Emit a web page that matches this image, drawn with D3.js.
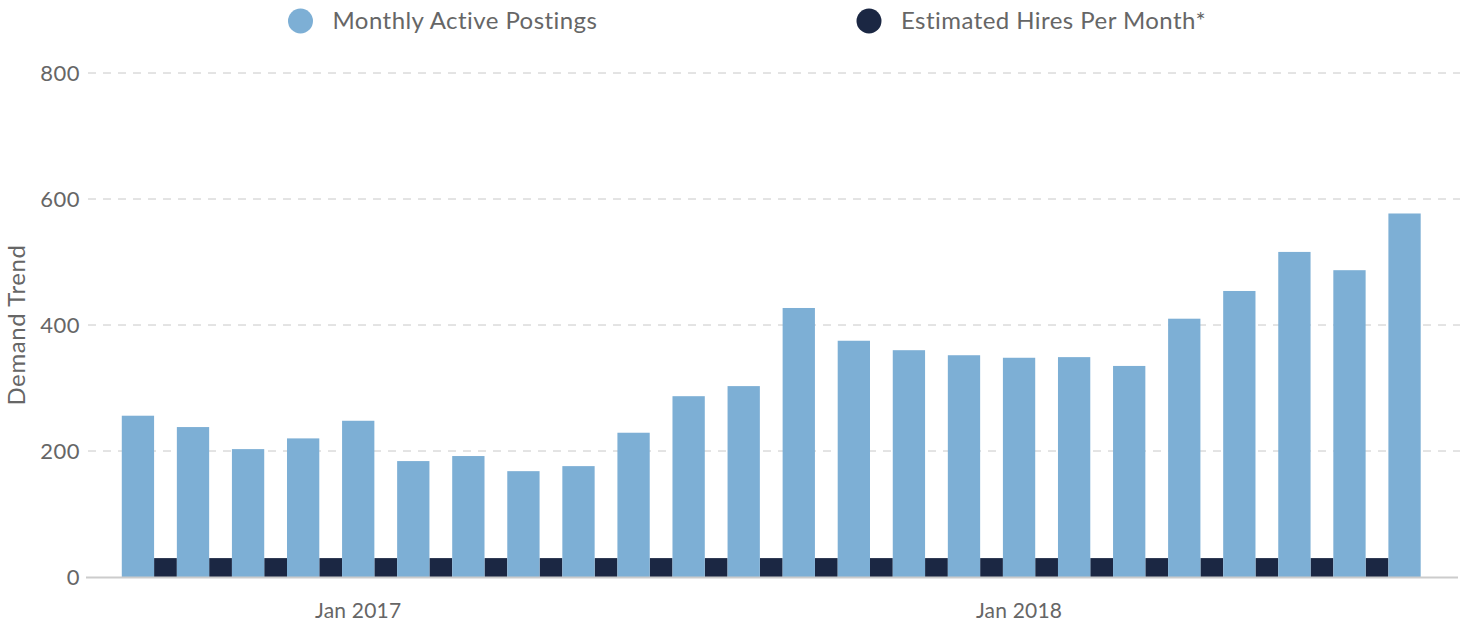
<!DOCTYPE html>
<html>
<head>
<meta charset="utf-8">
<script src="https://cdn.jsdelivr.net/npm/d3@7"></script>
<style>
  body { margin: 0; background: #fff; }
  svg { font-family: Lato, "Open Sans", sans-serif; }
  .grid line { stroke: #c8c8c8; stroke-dasharray: 8,7; }
  .tick text { fill: #666; }
</style>
</head>
<body>
<svg id="chart"></svg>
<script>
// months Sep 2016 .. Aug 2018
const months = ["Sep 2016", "Oct 2016", "Nov 2016", "Dec 2016", "Jan 2017", "Feb 2017", "Mar 2017", "Apr 2017",
  "May 2017", "Jun 2017", "Jul 2017", "Aug 2017", "Sep 2017", "Oct 2017", "Nov 2017", "Dec 2017",
  "Jan 2018", "Feb 2018", "Mar 2018", "Apr 2018", "May 2018", "Jun 2018", "Jul 2018", "Aug 2018"];
const postings = [256, 238, 203, 220, 248, 184, 192, 168, 176, 229, 287, 303,
  427, 375, 360, 352, 348, 349, 335, 410, 454, 516, 487, 577];
const hires = [30, 30, 30, 30, 30, 30, 30, 30, 30, 30, 30, 30,
  30, 30, 30, 30, 30, 30, 30, 30, 30, 30, 30, null];
const yTicks = [0, 200, 400, 600, 800];
const xLabels = ["Jan 2017", "Jan 2018"];
const seriesNames = ["Monthly Active Postings", "Estimated Hires Per Month*"];
const colors = ["#7dafd5", "#1b2743"];

const width = 1466, height = 624;
const svg = d3.select("#chart").attr("width", width).attr("height", height);

const plotLeft = 86, plotRight = 1460;
const y = d3.scaleLinear().domain([0, 800]).range([577, 73]);
const x = d3.scaleBand().domain(months).range([110.4, 110.4 + 24 * 55.07]);
const barW = 32.3;

// gridlines
svg.append("g").attr("class", "grid")
  .selectAll("line")
  .data(yTicks.filter(d => d > 0))
  .enter().append("line")
  .attr("x1", 88).attr("x2", plotRight)
  .attr("y1", d => y(d)).attr("y2", d => y(d));

// y labels
svg.append("g").attr("class", "tick")
  .selectAll("text")
  .data(yTicks)
  .enter().append("text")
  .attr("x", 80).attr("y", d => y(d) + 8)
  .attr("text-anchor", "end")
  .attr("font-size", 22)
  .attr("letter-spacing", 0.5)
  .text(d => d);

svg.append("text")
  .attr("transform", `translate(25,${(y(0) + y(800)) / 2}) rotate(-90)`)
  .attr("text-anchor", "middle")
  .attr("font-size", 24)
  .attr("letter-spacing", 0.6)
  .attr("fill", "#666")
  .text("Demand Trend");

// bars: postings centred on month, hires right next to it
const cx = d => x(d) + x.bandwidth() / 2;

svg.append("g").selectAll("rect")
  .data(months.map((m, i) => ({ m, v: hires[i] })).filter(d => d.v != null))
  .enter().append("rect")
  .attr("x", d => cx(d.m) + barW / 2)
  .attr("width", x.bandwidth() - barW)
  .attr("y", d => y(d.v))
  .attr("height", d => y(0) - y(d.v))
  .attr("fill", colors[1]);

svg.append("g").selectAll("rect")
  .data(months.map((m, i) => ({ m, v: postings[i] })))
  .enter().append("rect")
  .attr("x", d => cx(d.m) - barW / 2)
  .attr("width", barW)
  .attr("y", d => y(d.v))
  .attr("height", d => y(0) - y(d.v))
  .attr("fill", colors[0]);

// x axis line
svg.append("line")
  .attr("x1", plotLeft).attr("x2", 1458)
  .attr("y1", y(0) + 0.5).attr("y2", y(0) + 0.5)
  .attr("stroke", "#ccc").attr("stroke-width", 2);

svg.append("g").attr("class", "tick")
  .selectAll("text")
  .data(xLabels)
  .enter().append("text")
  .attr("x", d => cx(d))
  .attr("y", 618)
  .attr("text-anchor", "middle")
  .attr("font-size", 21)
  .attr("letter-spacing", 0.2)
  .text(d => d);

// legend
const legendX = [300.5, 869];
const lg = svg.append("g").selectAll("g")
  .data(seriesNames)
  .enter().append("g")
  .attr("transform", (d, i) => `translate(${legendX[i]},21)`);
lg.append("circle").attr("r", 12.5).attr("fill", (d, i) => colors[i]);
lg.append("text")
  .attr("x", 32).attr("y", 8)
  .attr("font-size", 24)
  .attr("letter-spacing", 0.45)
  .attr("fill", "#666")
  .text(d => d);
</script>
</body>
</html>
